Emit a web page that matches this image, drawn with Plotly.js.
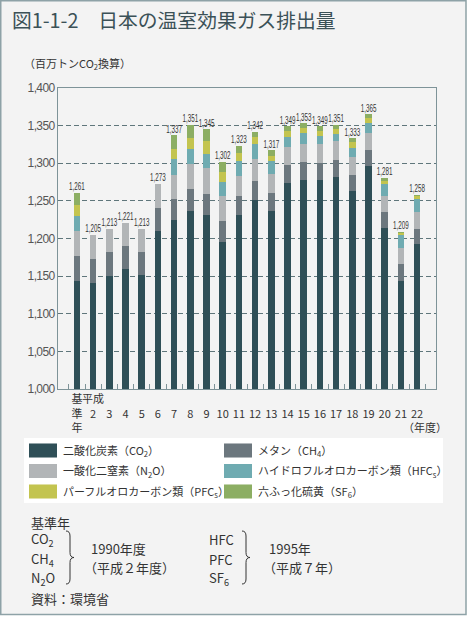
<!DOCTYPE html>
<html><head><meta charset="utf-8">
<script src="https://cdn.plot.ly/plotly-3.0.1.min.js"></script>
<style>
html,body{margin:0;padding:0;background:#fff;}
#chart{width:469px;height:617px;}
#chart .textpoint text{transform-box:fill-box;transform-origin:center;transform:scaleX(0.6);}
#chart .ytick text{letter-spacing:-0.6px;}
#chart .legendpoints path{transform:translate(20px,0px) scale(2.33,1.17);}
</style>
</head><body><div id="chart"></div>
<script>
// ---- data (million t CO2 eq.) ----
const categories = ["基準年","平成2","3","4","5","6","7","8","9","10","11","12","13","14","15","16","17","18","19","20","21","22"];
const tickLabels = ["基<br>準<br>年","平成<br>2","&nbsp;<br>3","&nbsp;<br>4","&nbsp;<br>5","&nbsp;<br>6","&nbsp;<br>7","&nbsp;<br>8","&nbsp;<br>9","&nbsp;<br>10","&nbsp;<br>11","&nbsp;<br>12","&nbsp;<br>13","&nbsp;<br>14","&nbsp;<br>15","&nbsp;<br>16","&nbsp;<br>17","&nbsp;<br>18","&nbsp;<br>19","&nbsp;<br>20","&nbsp;<br>21","&nbsp;<br>22"];
const co2 = [1144,1141,1150,1159,1151,1210,1224,1237,1231.5,1196,1231,1251,1236,1273.5,1278,1278,1282,1263,1296.5,1213.5,1144,1193];
const ch4 = [33.4,32,32,31,31,31,29,28.6,28,27,26,26,24.5,24,23.4,22.3,22.4,22,21.3,21.2,21.5,19.8];
const n2o = [32.6,32,31,31,31,32,32,34,34,33,26,28.6,25.5,24.2,24.6,25,24.6,23.8,22.7,22.4,22,22.3];
const hfc = [20.2,null,null,null,null,null,20,19,19.4,19,20,19.4,16.5,13.6,14,11.4,10,12,13.4,15,17,17.8];
const pfc = [14.0,null,null,null,null,null,14.6,15.5,16.7,14,11,9.4,7.5,7.1,7,6.2,6.2,7.4,6.6,4.8,2.7,3.1];
const sf6 = [16.9,null,null,null,null,null,17.4,16.9,15.4,13,9,7.6,7,6.6,6,6.1,5.8,4.8,4.5,4.1,1.8,2.0];
const totals = [1261,1205,1213,1221,1213,1273,1337,1351,1345,1302,1323,1342,1317,1349,1353,1349,1351,1333,1365,1281,1209,1258];
const seriesNames = ["二酸化炭素（CO<sub>2</sub>）","メタン（CH<sub>4</sub>）","一酸化二窒素（N<sub>2</sub>O）","ハイドロフルオロカーボン類（HFC<sub>s</sub>）","パーフルオロカーボン類（PFC<sub>s</sub>）","六ふっ化硫黄（SF<sub>6</sub>）"];
const seriesColors = ["#2f4f57","#6c777e","#b2b5b7","#6fabb1","#c3c44f","#8cae63"];
const seriesValues = [co2, ch4, n2o, hfc, pfc, sf6];

// ---- layout helpers (pixel -> paper) ----
const W = 469, H = 617, ML = 58, MR = 33, MT = 88, MB = 228;
const PW = W - ML - MR, PH = H - MT - MB;
const X = px => (px - ML) / PW;
const Y = py => (H - MB - py) / PH;

const jp = "'Noto Sans CJK JP', 'Noto Sans', sans-serif";
const narrow = "'Liberation Sans Narrow', 'Liberation Sans', sans-serif";

const traces = seriesValues.map((vals, i) => ({
  type: 'bar', x: categories, y: vals, name: seriesNames[i],
  marker: {color: seriesColors[i], line: {width: 0}},
  legend: i % 2 === 0 ? 'legend' : 'legend2',
  legendgroup: 'g' + i,
  hoverinfo: 'skip'
}));
traces.push({
  type: 'scatter', mode: 'text', x: categories, y: totals,
  text: totals.map(v => v.toLocaleString('en-US')),
  textposition: 'top center',
  textfont: {family: narrow, size: 10.5, color: '#333'},
  showlegend: false, hoverinfo: 'skip', cliponaxis: false
});

function brace(x0, top, bot) {
  const mid = (top + bot) / 2, w = 4;
  const p = (a, b) => X(a) + ',' + Y(b);
  return 'M' + p(x0, top) + ' Q' + p(x0 + w, top) + ' ' + p(x0 + w, top + 5) +
    ' L' + p(x0 + w, mid - 5) + ' Q' + p(x0 + w, mid) + ' ' + p(x0 + 2 * w, mid) +
    ' Q' + p(x0 + w, mid) + ' ' + p(x0 + w, mid + 5) +
    ' L' + p(x0 + w, bot - 5) + ' Q' + p(x0 + w, bot) + ' ' + p(x0, bot);
}

const ann = (txt, px, py, size, opts) => Object.assign({
  text: txt, xref: 'paper', yref: 'paper', x: X(px), y: Y(py),
  xanchor: 'left', yanchor: 'middle', showarrow: false,
  font: {family: jp, size: size, color: '#333'}
}, opts || {});

const legendBase = {
  orientation: 'v', traceorder: 'grouped', tracegroupgap: 1.5,
  xanchor: 'left', y: Y(436), yanchor: 'top',
  bgcolor: 'rgba(0,0,0,0)', borderwidth: 0,
  font: {family: jp, size: 11, color: '#333'},
  itemclick: false, itemdoubleclick: false
};

const layout = {
  width: W, height: H,
  margin: {l: ML, r: MR, t: MT, b: MB, pad: 0},
  paper_bgcolor: '#ffffff', plot_bgcolor: 'rgba(0,0,0,0)',
  barmode: 'stack', bargap: 0.59,
  title: {text: '図1-1-2\u3000日本の温室効果ガス排出量', xref: 'container', yref: 'container',
    x: 12 / W, xanchor: 'left', y: 1 - 21 / H, yanchor: 'middle',
    font: {family: jp, size: 19.8, color: '#3b5157'}},
  xaxis: {
    type: 'category', tickvals: categories, ticktext: tickLabels,
    showline: true, linecolor: '#7e9398', linewidth: 1, mirror: true,
    ticks: 'inside', tickson: 'boundaries', ticklen: 5, tickcolor: '#7e9398',
    showgrid: false, zeroline: false,
    tickfont: {family: jp, size: 11, color: '#333'}, tickangle: 0,
    fixedrange: true
  },
  yaxis: {
    range: [1000, 1400], dtick: 50, tickformat: ',d',
    showline: true, linecolor: '#7e9398', linewidth: 1, mirror: true,
    showgrid: true, gridcolor: '#5f767b', griddash: '5px,3px', gridwidth: 1,
    zeroline: false, ticks: '',
    tickfont: {family: narrow, size: 12, color: '#555'},
    fixedrange: true
  },
  showlegend: true,
  legend: Object.assign({}, legendBase, {x: X(23)}),
  legend2: Object.assign({}, legendBase, {x: X(218)}),
  shapes: [
    {type: 'rect', xref: 'paper', yref: 'paper', x0: X(0.75), x1: X(466), y0: Y(0.75), y1: Y(614.5),
      fillcolor: '#f3f3f3', line: {color: '#8ea2a7', width: 1.5}, layer: 'below'},
    {type: 'rect', xref: 'paper', yref: 'paper', x0: X(24), x1: X(443), y0: Y(438), y1: Y(503),
      fillcolor: '#ffffff', line: {width: 0}, layer: 'below'},
    {type: 'path', xref: 'paper', yref: 'paper', path: brace(66, 531, 584), line: {color: '#333', width: 1}},
    {type: 'path', xref: 'paper', yref: 'paper', path: brace(242, 531, 584), line: {color: '#333', width: 1}}
  ],
  annotations: [
    ann('（百万トンCO<sub>2</sub>換算）', 22, 63, 11),
    ann('（年度）', 401, 427, 11),
    ann('基準年', 29, 522, 13),
    ann('CO<sub>2</sub>', 29, 539, 13),
    ann('CH<sub>4</sub>', 29, 559, 13),
    ann('N<sub>2</sub>O', 29, 578, 13),
    ann('1990年度', 89, 548, 13),
    ann('（平成２年度）', 82, 567, 13),
    ann('HFC', 207, 539, 13),
    ann('PFC', 207, 559, 13),
    ann('SF<sub>6</sub>', 207, 578, 13),
    ann('1995年', 267, 548, 13),
    ann('（平成７年）', 261, 567, 13),
    ann('資料：環境省', 29, 598, 13)
  ]
};

Plotly.newPlot('chart', traces, layout, {displayModeBar: false, staticPlot: true});
</script></body></html>
